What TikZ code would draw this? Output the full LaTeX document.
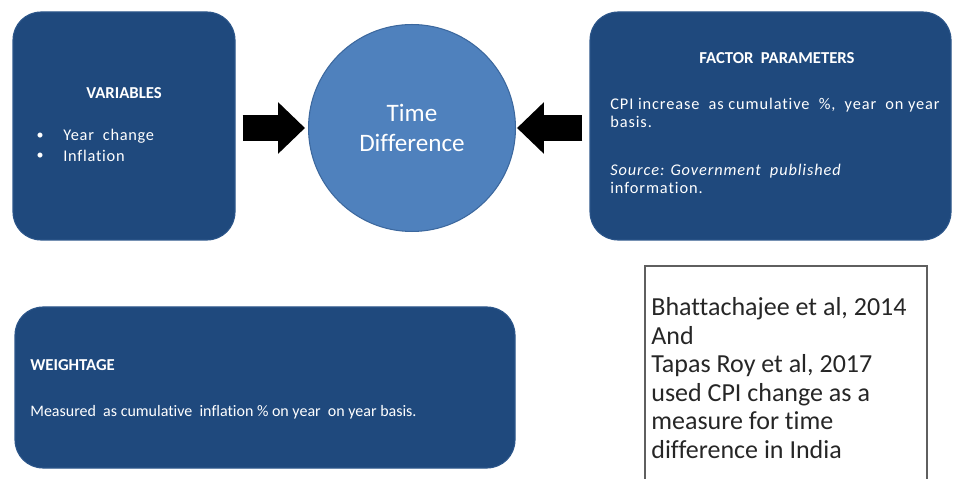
\documentclass[tikz,border=0pt]{standalone}
\usepackage{fontspec}
\setmainfont{Carlito}[Ligatures=NoCommon]
\usetikzlibrary{arrows.meta, positioning, fit}
\definecolor{boxnavy}{RGB}{31,73,125}
\definecolor{boxedge}{RGB}{44,86,138}
\definecolor{circleblue}{RGB}{79,129,189}
\definecolor{circleedge}{RGB}{60,104,158}
\definecolor{refgray}{RGB}{95,95,95}
\definecolor{reftext}{RGB}{38,38,38}

\tikzset{
    navybox/.style={rectangle, rounded corners=0.56cm, fill=boxnavy, draw=boxedge, line width=0.6pt, inner sep=0pt},
    heading/.style={text=white, font=\fontsize{9.5}{11}\selectfont\bfseries},
    bodytext/.style={text=white, font=\fontsize{9.3}{10.2}\selectfont, align=left, inner sep=0pt},
    spaced/.style={font=\fontsize{9.3}{10.2}\selectfont\addfontfeature{LetterSpace=#1}},
    blockarrow/.style={line width=15.3pt, black, -{Triangle[length=15.3pt, width=28.4pt]}}
}

\begin{document}
\begin{tikzpicture}[x=0.02cm, y=-0.02cm]
        \useasboundingbox (0,0) rectangle (953,479);
        \clip (0,0) rectangle (953,479);

        % the three dark boxes and the circle
        \node[navybox, fit={(13,12) (235,240)}] (vars) {};
        \node[navybox, fit={(590,12) (951,240)}] (factor) {};
        \node[navybox, fit={(15,307) (515,468)}] (weight) {};
        \node[circle, fill=circleblue, draw=circleedge, line width=0.6pt, minimum size=4.14cm,
              text=white, align=center, font=\fontsize{14.3}{17}\selectfont] (time) at (412,128) {Time\\Difference};

        % block arrows into the circle
        \draw[blockarrow, shorten <=0.14cm, shorten >=0.06cm] (vars.east |- time.west) -- (time.west);
        \draw[blockarrow, shorten <=0.14cm, shorten >=0.02cm] (factor.west |- time.east) -- (time.east);

        % variables
        \node[heading] (varshead) at (124,93) {VARIABLES};
        \foreach \y/\item [count=\i] in {136/Year\ \ change, 156/Inflation}
        {
            \node[bodytext, font=\fontsize{8}{9}\selectfont] (dot\i) at (40,\y) {•};
            \node[bodytext, spaced=4.5, anchor=west] (var\i) at (63,\y) {\item};
        }

        % factor parameters
        \node[heading] (facthead) at (777,58) {FACTOR\ \ PARAMETERS};
        \node[bodytext, spaced=5.5, anchor=west] (cpi) at (610,113) {CPI increase\ \ as cumulative\ \ \%,\ \ year\ \ on year\\basis.};
        \node[bodytext, spaced=5.5, anchor=west] (source) at (610,179) {\itshape Source: Government\ \ published\\information.};

        % weightage
        \node[heading, anchor=west, inner sep=0pt] (weighthead) at (30,365) {WEIGHTAGE};
        \node[bodytext, anchor=west, font=\fontsize{9.1}{10}\selectfont] (measured) at (30,412) {Measured\ \ as cumulative\ \ inflation \% on year\ \ on year basis.};

        % reference note, open at the foot
        \node[rectangle, draw=refgray, line width=0.7pt, inner sep=0pt, fit={(645,266) (927,530)}] (refbox) {};
        \node[anchor=west, align=left, inner sep=0pt, text=reftext, font=\fontsize{14.8}{16.2}\selectfont] (refnote) at (651,378)
            {Bhattachajee et al, 2014\\And\\Tapas Roy et al, 2017\\used CPI change as a\\measure for time\\difference in India};
\end{tikzpicture}
\end{document}
